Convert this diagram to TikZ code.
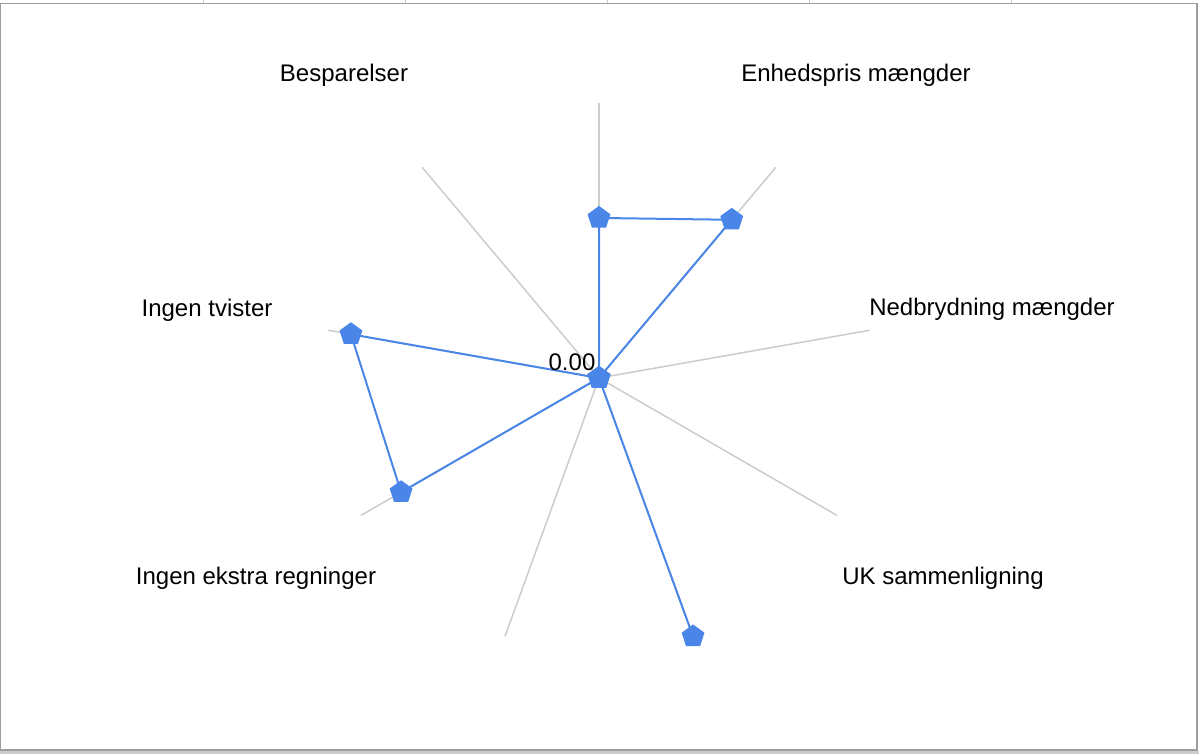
\documentclass[tikz,border=0pt]{standalone}
\usepackage{fontspec}
\setmainfont{Liberation Sans}
\usetikzlibrary{shapes.geometric}
\definecolor{serieblaa}{HTML}{4A86E8}
\definecolor{eger}{HTML}{CCCCCC}
\definecolor{ramme}{HTML}{9E9E9E}
\tikzset{
  eger/.style={draw=eger, line width=0.75pt},
  serie/.style={draw=serieblaa, line width=1pt, line join=round},
  markor/.style={regular polygon, regular polygon sides=5, fill=serieblaa,
    minimum size=12pt, inner sep=0pt},
  etiket/.style={font=\fontsize{12}{14}\selectfont, inner sep=0pt}
}
\begin{document}
\begin{tikzpicture}[x=0.5pt,y=-0.5pt] %Radardiagram med ni akser
            \useasboundingbox (0,0) rectangle (1199,754);
            \draw[ramme, line width=0.8pt] (0.5,3.5) rectangle (1197,750);
            \draw[eger, line width=1.2pt] (0,752.5) -- (1199,752.5);
            \foreach \x in {203,405,607,809,1011}
                \draw[eger, line width=0.5pt] (\x,0) -- (\x,3);

            \coordinate (c) at (599,378);
            % akser
            \foreach \v [count=\i] in {90,50,10,-30,-70,-110,-150,170,130}{
                \path (c) ++(\v:137.5pt) coordinate (s\i);
                \draw[eger] (c) -- (s\i);
            }
            % datapunkter (andel af aksens laengde)
            \foreach \v/\r [count=\i] in {90/0.582,50/0.751,10/0,-30/0,-70/1,-110/0,-150/0.831,170/0.916,130/0}
                \path (c) ++(\v:\r*137.5pt) coordinate (d\i);

            \draw[serie] (d1) -- (d2) -- (d3) -- (d4) -- (d5) -- (d6) -- (d7) -- (d8) -- (d9) -- cycle;
            \foreach \i in {1,...,9}
                \node[markor] (m\i) at (d\i) {};

            \node[etiket] (nul) at (572,362) {0.00};
            \node[etiket] (l9) at (344,75) {Besparelser};
            \node[etiket] (l2) at (856,75) {Enhedspris mængder};
            \node[etiket] (l3) at (992,309) {Nedbrydning mængder};
            \node[etiket] (l4) at (943,578) {UK sammenligning};
            \node[etiket] (l7) at (256,578) {Ingen ekstra regninger};
            \node[etiket] (l8) at (207,310) {Ingen tvister};
        \end{tikzpicture}
\end{document}
